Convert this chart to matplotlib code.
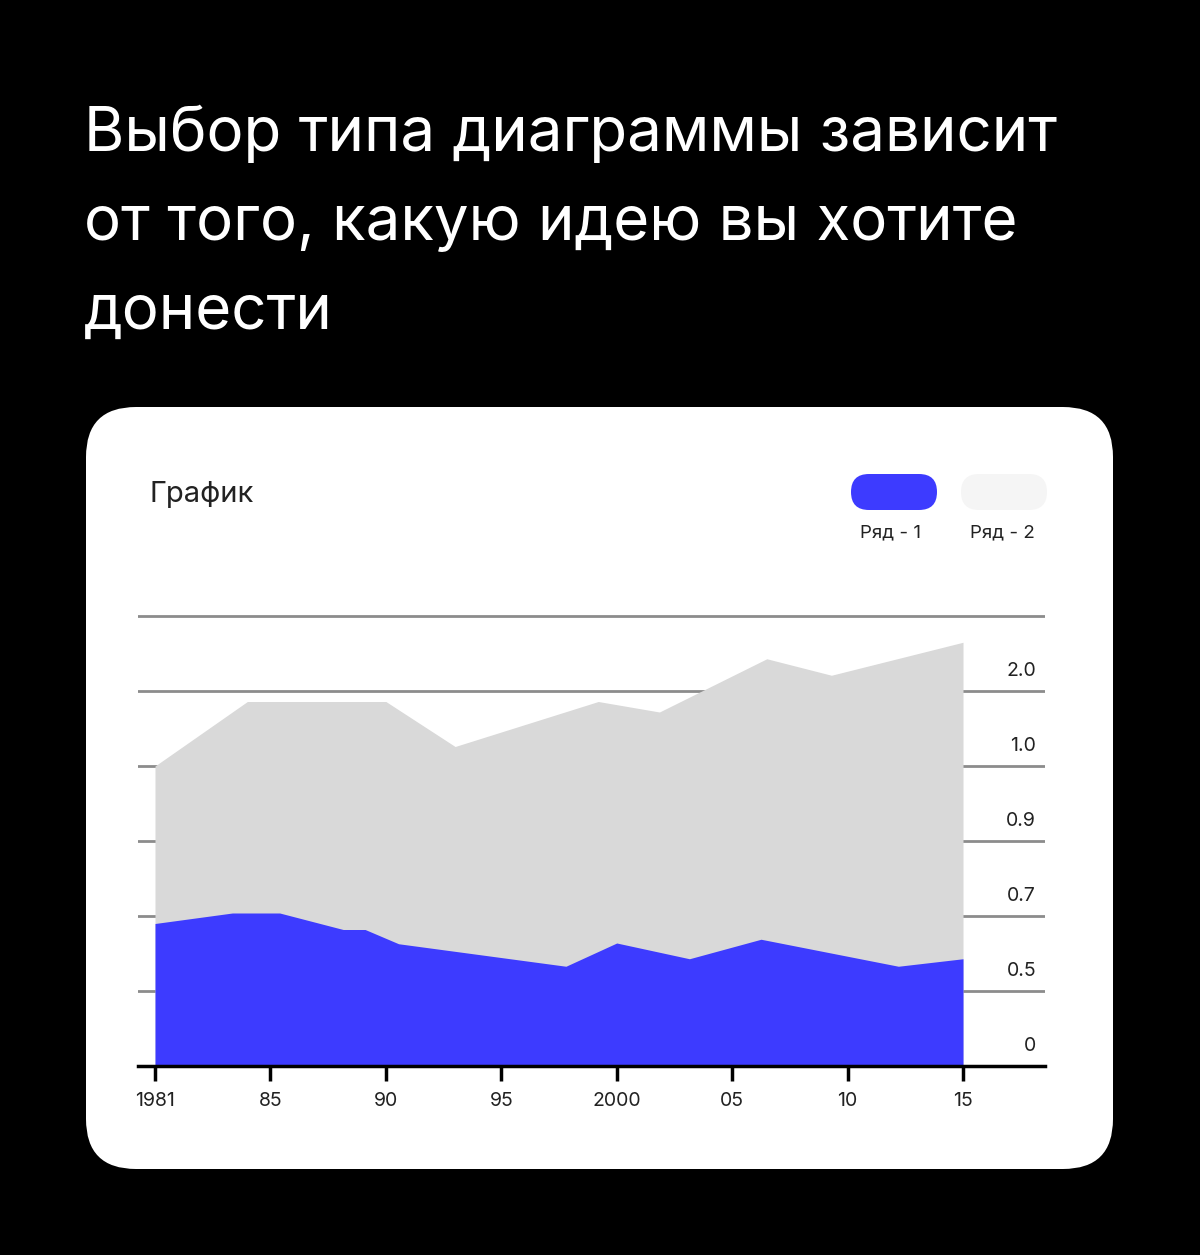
import matplotlib.pyplot as plt
from matplotlib.patches import FancyBboxPatch

plt.rcParams['font.family'] = ['Inter', 'DejaVu Sans']

# x positions in tick units (0 = 1981, 1 = 85, ... 7 = 2015)
tick_labels_x = ["1981", "85", "90", "95", "2000", "05", "10", "15"]
tick_labels_y = ["0", "0.5", "0.7", "0.9", "1.0", "2.0"]

# Ряд - 2 (grey, upper outline)
x2 = [0.0, 0.80, 2.0, 2.60, 3.84, 4.37, 5.30, 5.86, 7.0]
y2 = [4.0, 4.86, 4.86, 4.26, 4.86, 4.72, 5.43, 5.21, 5.65]

# Ряд - 1 (blue)
x1 = [0.0, 0.67, 1.08, 1.63, 1.82, 2.11, 3.56, 4.0, 4.63, 5.25, 6.44, 7.0]
y1 = [1.90, 2.04, 2.04, 1.82, 1.82, 1.63, 1.33, 1.64, 1.43, 1.69, 1.33, 1.43]

blue = "#3d3bff"
grey = "#d9d9d9"

W, H = 1200, 1255
fig = plt.figure(figsize=(W / 100, H / 100), dpi=100, facecolor="black")

# background layer in pixel coordinates
bg = fig.add_axes([0, 0, 1, 1], zorder=0)
bg.set_xlim(0, W)
bg.set_ylim(H, 0)
bg.axis("off")
bg.add_patch(FancyBboxPatch((86 + 50, 407 + 50), 1027 - 100, 762 - 100,
                            boxstyle="round,pad=50", fc="white", ec="none"))

title_lines = ["Выбор типа диаграммы зависит", "от того, какую идею вы хотите", "донести"]
for i, line in enumerate(title_lines):
    bg.text(84, 135 + i * 89, line, color="white", fontsize=44.5,
            va="center", ha="left")

bg.text(150, 495, "График", color="#222222", fontsize=21, va="center", ha="left")

# legend pills
bg.add_patch(FancyBboxPatch((851 + 18, 474 + 18), 86 - 36, 36 - 36,
                            boxstyle="round,pad=18", fc=blue, ec="none"))
bg.add_patch(FancyBboxPatch((961 + 18, 474 + 18), 86 - 36, 36 - 36,
                            boxstyle="round,pad=18", fc="#f5f5f5", ec="none"))
bg.text(891, 533, "Ряд - 1", color="#222222", fontsize=13.5, va="center", ha="center")
bg.text(1002, 533, "Ряд - 2", color="#222222", fontsize=13.5, va="center", ha="center")

# main chart
px_per_u = 115.43
left_u = (138 - 155) / px_per_u
right_u = (1045 - 155) / px_per_u
top_val = 6 + 12 / 75
ax = fig.add_axes([138 / W, 1 - 1066 / H, (1045 - 138) / W, top_val * 75 / H], zorder=1)
ax.patch.set_alpha(0)
ax.set_xlim(left_u, right_u)
ax.set_ylim(0, top_val)

for yv in range(1, 7):
    ax.axhline(yv, color="#8c8c8c", lw=2, zorder=1)
ax.fill_between(x2, y2, 0, color=grey, lw=0, zorder=2)
ax.fill_between(x1, y1, 0, color=blue, lw=0, zorder=3)
ax.axhline(0, color="black", lw=2.5, zorder=4, clip_on=False)

for s in ax.spines.values():
    s.set_visible(False)
ax.set_yticks([])
ax.set_xticks(range(len(tick_labels_x)))
ax.set_xticklabels(tick_labels_x, fontsize=14, color="#222222")
ax.tick_params(axis="x", length=11, width=2.5, color="black", pad=8)

for i, lab in enumerate(tick_labels_y):
    ax.text(right_u - 9 / px_per_u, i + 0.27, lab, ha="right", va="center",
            fontsize=14, color="#222222", zorder=5)

fig.savefig("out.png", dpi=100, facecolor="black")
